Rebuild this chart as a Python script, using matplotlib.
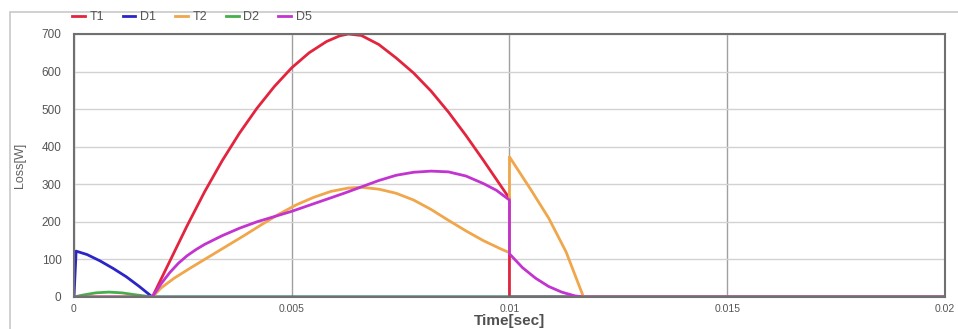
import numpy as np
import matplotlib.pyplot as plt
from matplotlib.patches import Rectangle

# Values (time in s, loss in W)
t1_time = [0, 0.0018, 0.0022, 0.0026, 0.0030, 0.0034, 0.0038, 0.0042, 0.0046, 0.0050,
           0.0054, 0.0058, 0.0061, 0.0063, 0.0066, 0.0070, 0.0074, 0.0078, 0.0082, 0.0086,
           0.0090, 0.0094, 0.0098, 0.0100, 0.0100, 0.02]
t1_loss = [0, 0, 95, 190, 280, 362, 436, 502, 560, 610,
           650, 680, 695, 700, 696, 672, 636, 596, 548, 492,
           430, 364, 296, 262, 0, 0]

d1_time = [0, 0.00005, 0.0003, 0.0006, 0.0009, 0.0012, 0.0015, 0.0018, 0.02]
d1_loss = [0, 122, 113, 96, 76, 54, 28, 0, 0]

t2_time = [0, 0.0018, 0.0020, 0.0023, 0.0027, 0.0031, 0.0035, 0.0039, 0.0043, 0.0047,
           0.0051, 0.0055, 0.0059, 0.0063, 0.0066, 0.0070, 0.0074, 0.0078, 0.0082, 0.0086,
           0.0090, 0.0094, 0.0098, 0.0100, 0.0100, 0.0105, 0.0109, 0.0113, 0.0117, 0.02]
t2_loss = [0, 0, 24, 50, 79, 107, 135, 163, 192, 220,
           245, 265, 281, 290, 292, 287, 276, 258, 233, 204,
           176, 150, 128, 118, 373, 284, 210, 120, 0, 0]

d2_time = [0, 0.0002, 0.0005, 0.0008, 0.0011, 0.0014, 0.0018, 0.02]
d2_loss = [0, 5, 11, 13, 11, 6, 0, 0]

d5_time = [0, 0.0018, 0.0020, 0.0022, 0.0024, 0.0026, 0.0028, 0.0030, 0.0034, 0.0038,
           0.0042, 0.0046, 0.0050, 0.0054, 0.0058, 0.0062, 0.0066, 0.0070, 0.0074, 0.0078,
           0.0082, 0.0086, 0.0090, 0.0094, 0.0097, 0.0100, 0.0100, 0.0103, 0.0106, 0.0109,
           0.0112, 0.0115, 0.0117, 0.02]
d5_loss = [0, 0, 35, 65, 90, 110, 126, 140, 163, 183,
           200, 214, 228, 244, 260, 276, 293, 310, 324, 332,
           335, 333, 322, 302, 284, 258, 115, 78, 50, 28,
           13, 3, 0, 0]

series = [
    ("T1", t1_time, t1_loss, "#e3243f"),
    ("D1", d1_time, d1_loss, "#2a25c8"),
    ("T2", t2_time, t2_loss, "#f0a64a"),
    ("D2", d2_time, d2_loss, "#45b04a"),
    ("D5", d5_time, d5_loss, "#c233cf"),
]

plt.rcParams['font.family'] = ['Liberation Sans', 'DejaVu Sans']

fig = plt.figure(figsize=(9.58, 3.29), dpi=100)
ax = fig.add_axes([0.0772, 0.0973, 0.9092, 0.7994])

# light outer frame of the original window
fig.patches.append(Rectangle((0.010, -0.05), 1.2, 1.013, transform=fig.transFigure,
                             fill=False, edgecolor="#c8c8c8", lw=1.2))

for name, tt, vv, col in series:
    ax.plot(tt, vv, color=col, lw=2, label=name, solid_joinstyle="round")

ax.set_xlim(0, 0.02)
ax.set_ylim(0, 700)
ax.set_xticks([0, 0.005, 0.01, 0.015, 0.02])
ax.set_xticklabels(["0", "0.005", "0.01", "0.015", "0.02"])
ax.set_yticks(range(0, 701, 100))

ax.yaxis.grid(True, color="#d2d2d2", lw=1)
ax.xaxis.grid(True, color="#a0a0a0", lw=1)
ax.set_axisbelow(True)

ax.tick_params(length=0, labelcolor="#555555")
ax.tick_params(axis="y", pad=9, labelsize=8.5)
ax.tick_params(axis="x", pad=5, labelsize=7.5)
for s in ax.spines.values():
    s.set_color("#707070")
    s.set_linewidth(1.5)

ax.set_xlabel("Time[sec]", fontsize=11, color="#505050", fontweight="bold", labelpad=0)
ax.set_ylabel("Loss[W]", fontsize=9, color="#606060", labelpad=11)

leg = fig.legend(loc="center left", bbox_to_anchor=(72 / 958, 0.948), ncol=5, frameon=False,
                 fontsize=9, handlelength=1.0, handletextpad=0.4, columnspacing=1.5,
                 borderaxespad=0, borderpad=0)
for txt in leg.get_texts():
    txt.set_color("#555555")

fig.savefig("out.png", dpi=100)
